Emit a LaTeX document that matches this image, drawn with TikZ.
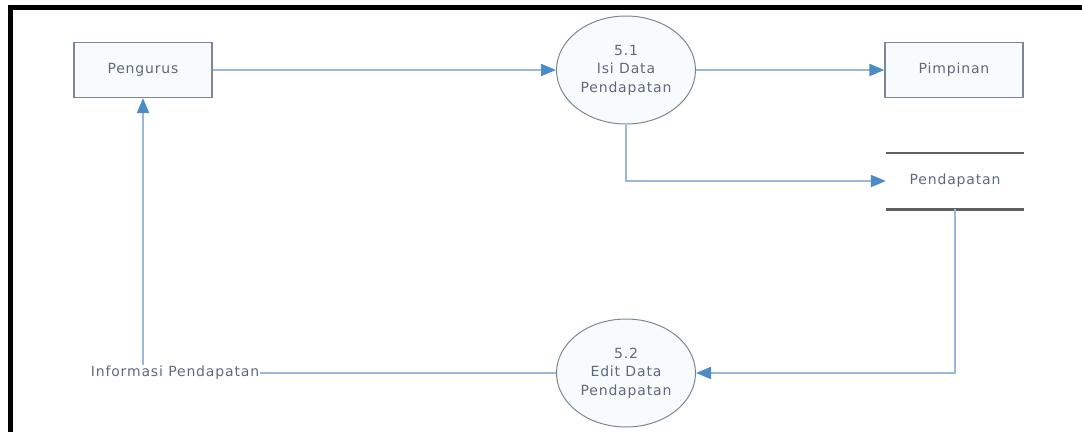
\documentclass[tikz,border=0pt]{standalone}
\usepackage{fontspec}
\setmainfont[LetterSpace=6]{DejaVu Sans}
\usetikzlibrary{shapes.geometric,arrows.meta}
\definecolor{flowblue}{RGB}{155,185,215}
\definecolor{tipblue}{RGB}{75,140,200}
\definecolor{boxgray}{RGB}{125,135,145}
\definecolor{boxfill}{RGB}{248,251,254}
\definecolor{txtgray}{RGB}{95,105,125}
\definecolor{storegray}{RGB}{95,95,95}

\begin{document}
\begin{tikzpicture}[x=1pt, y=-1pt,
    every node/.style={text=txtgray, font=\fontsize{14}{18.5}\selectfont},
    entity/.style={draw=boxgray, fill=boxfill, line width=1.2pt,
      minimum width=138pt, minimum height=55pt},
    proc/.style={ellipse, draw=boxgray, fill=boxfill, line width=1pt,
      minimum width=139pt, minimum height=108pt, inner sep=0pt, align=center},
    flow/.style={draw=flowblue, line width=2pt,
      -{Triangle[length=15pt, width=12pt, color=tipblue]}}]
          \useasboundingbox (0,0) rectangle (1082,432);
          \draw[line width=5pt] (10.5,432) -- (10.5,7.5) -- (1082,7.5);
          \node[entity] (pengurus) at (143,70) {Pengurus};
          \node[proc] (p1) at (626,70) {5.1\\Isi Data\\Pendapatan};
          \node[entity] (pimpinan) at (954,70) {Pimpinan};
          \node[minimum width=138pt, minimum height=56pt] (store) at (955,181)
          {Pendapatan};
          \node[proc] (p2) at (626,373) {5.2\\Edit Data\\Pendapatan};
          \node[inner sep=1pt] (info) at (175,373) {Informasi Pendapatan};
          \draw[storegray, line width=2pt] (store.north west) -- (store.north east);
          \draw[storegray, line width=2.6pt] (store.south west) -- (store.south east);
          \draw[flow] (pengurus) -- (p1);
          \draw[flow] (p1) -- (pimpinan);
          \draw[flow] (p1.south) |- (store.west);
          \draw[flow] (store.south) |- (p2.east);
          \draw[flowblue, line width=2pt] (p2) -- (info);
          \draw[flow] (info.north -| pengurus.south) -- (pengurus.south);
        \end{tikzpicture}
\end{document}
